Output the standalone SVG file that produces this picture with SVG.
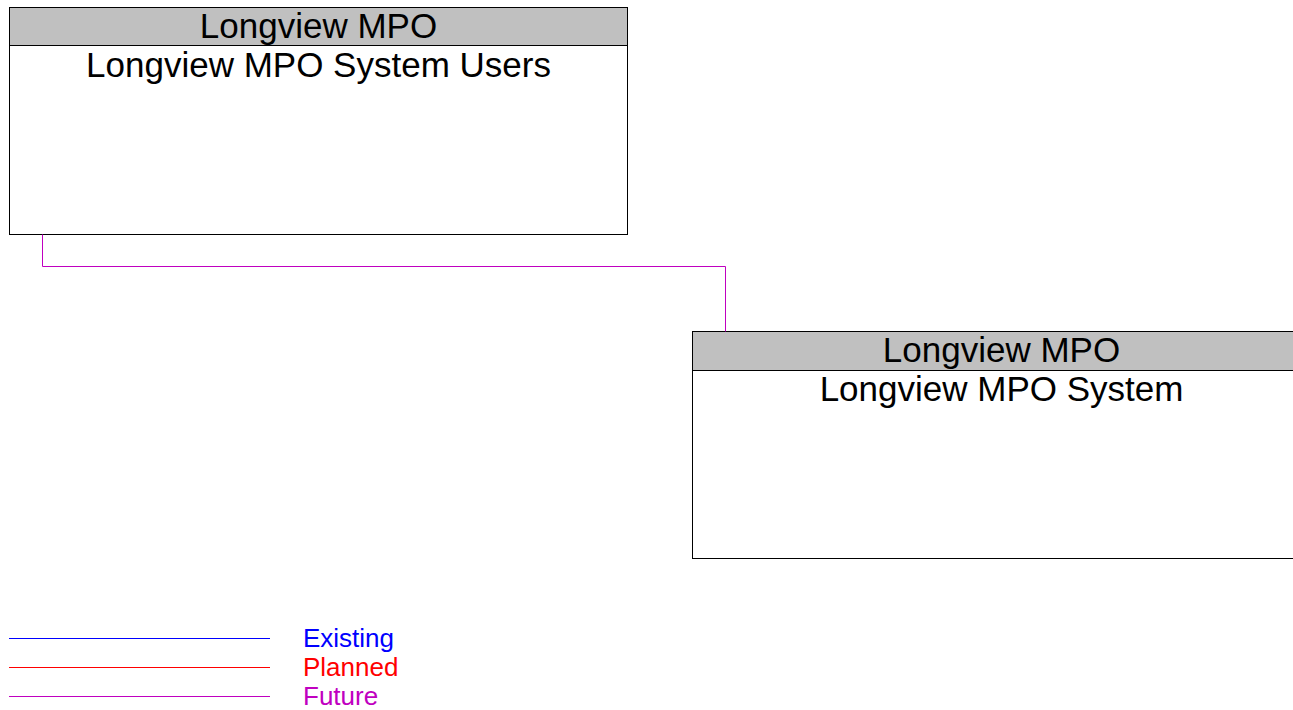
<svg xmlns="http://www.w3.org/2000/svg" width="1293" height="710" viewBox="0 0 1293 710">
<style>
.box{fill:#fff;stroke:#000;stroke-width:1}
.hdr{fill:#c0c0c0;stroke:#000;stroke-width:1}
.t{font-family:"Liberation Sans",Arial,sans-serif;font-size:35px;fill:#000;text-anchor:middle}
.lg{font-family:"Liberation Sans",Arial,sans-serif;font-size:26px}
.fut{stroke:#c000c0;stroke-width:1;fill:none}
</style>
<rect width="1293" height="710" fill="#fff"/>
<g id="node-users">
<rect class="box" x="9.5" y="7.5" width="618" height="227"/>
<rect class="hdr" x="9.5" y="7.5" width="618" height="38"/>
<text class="t" x="318.5" y="38">Longview MPO</text>
<text class="t" x="318.5" y="77">Longview MPO System Users</text>
</g>
<g id="node-system">
<rect class="box" x="692.5" y="331.5" width="618" height="227"/>
<rect class="hdr" x="692.5" y="331.5" width="618" height="39"/>
<text class="t" x="1001.5" y="362">Longview MPO</text>
<text class="t" x="1001.5" y="401">Longview MPO System</text>
</g>
<g id="connectors">
<polyline class="fut" points="42.5,234.5 42.5,266.5 725.5,266.5 725.5,331.5"/>
</g>
<g id="legend">
<line x1="9" y1="638.5" x2="270" y2="638.5" stroke="#0000ff" stroke-width="1"/>
<line x1="9" y1="667.5" x2="270" y2="667.5" stroke="#ff0000" stroke-width="1"/>
<line x1="9" y1="696.5" x2="270" y2="696.5" stroke="#c000c0" stroke-width="1"/>
<text class="lg" x="303" y="647" fill="#0000ff">Existing</text>
<text class="lg" x="303" y="676" fill="#ff0000">Planned</text>
<text class="lg" x="303" y="705" fill="#c000c0">Future</text>
</g>
</svg>
